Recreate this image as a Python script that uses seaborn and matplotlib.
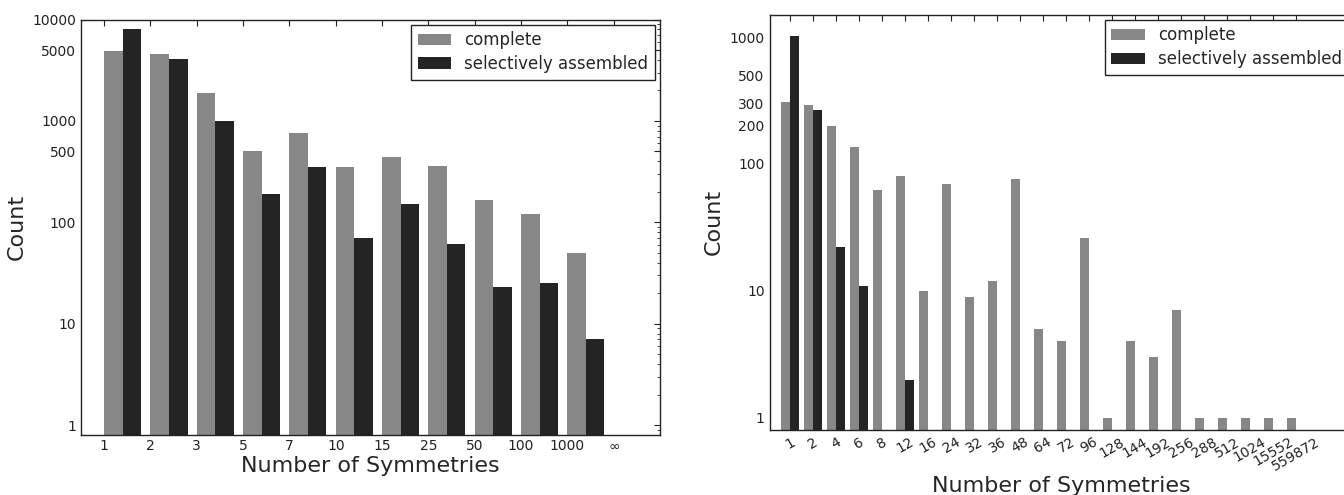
import numpy as np
import pandas as pd
import matplotlib
matplotlib.use("Agg")
import matplotlib.pyplot as plt
import seaborn as sns

# left panel: symmetry counts
left_labels = ['1', '2', '3', '5', '7', '10', '15', '25', '50', '100', '1000', r'$\infty$']
left_complete = [4900, 4550, 1870, 505, 760, 350, 445, 360, 167, 121, 50, None]
left_selective = [8100, 4050, 990, 191, 355, 70, 150, 61, 23, 25, 7, None]

# right panel
right_labels = ['1', '2', '4', '6', '8', '12', '16', '24', '32', '36', '48', '64', '72',
                '96', '128', '144', '192', '256', '288', '512', '1024', '15552', '559872']
right_complete = [310, 290, 200, 136, 62, 80, 10, 69, 9, 12, 76, 5, 4,
                  26, 1, 4, 3, 7, 1, 1, 1, 1, 1]
right_selective = [1010, 265, 22, 11, None, 2, None, None, None, None, None, None, None,
                   None, None, None, None, None, None, None, None, None, None]

kinds = ['complete', 'selectively assembled']
colors = ['#878787', '#242424']


def long_form(labels, comp, sel):
    rows = []
    for lab, c, s in zip(labels, comp, sel):
        if c is not None:
            rows.append((lab, kinds[0], c))
        if s is not None:
            rows.append((lab, kinds[1], s))
    return pd.DataFrame(rows, columns=['sym', 'kind', 'count'])


sns.set_style("white")
plt.rcParams.update({
    'font.family': ['DejaVu Sans'],
    'xtick.direction': 'in', 'ytick.direction': 'in',
    'xtick.top': True, 'ytick.right': True,
    'xtick.major.size': 4, 'ytick.major.size': 4,
    'xtick.minor.size': 2, 'ytick.minor.size': 2,
    'xtick.color': '#222222', 'ytick.color': '#222222',
    'axes.edgecolor': '#222222', 'axes.linewidth': 1.0,
    'xtick.labelsize': 10, 'ytick.labelsize': 10,
})

fig = plt.figure(figsize=(13.44, 4.95), dpi=100)
ax1 = fig.add_axes([81 / 1344, 1 - 434.5 / 495, 579 / 1344, 415 / 495])
ax2 = fig.add_axes([769.5 / 1344, 1 - 430 / 495, 584 / 1344, 415.3 / 495])

for ax, labels, comp, sel in [(ax1, left_labels, left_complete, left_selective),
                              (ax2, right_labels, right_complete, right_selective)]:
    df = long_form(labels, comp, sel)
    ax.set_yscale('log')
    sns.barplot(data=df, x='sym', y='count', hue='kind', order=labels, hue_order=kinds,
                palette=colors, saturation=1, width=0.8, errorbar=None,
                linewidth=0, ax=ax)
    ax.legend(loc='upper right', fontsize=12, frameon=True, fancybox=False,
              edgecolor='#222222', framealpha=1, borderaxespad=0.3,
              handlelength=2, labelspacing=0.35)
    ax.set_ylabel('Count', fontsize=16)
    ax.set_xlabel('Number of Symmetries', fontsize=16)
    for s in ax.spines.values():
        s.set_visible(True)

# left: ticks at the left edge of each bar pair
n1 = len(left_labels)
ax1.set_xticks(np.arange(n1) - 0.4, left_labels)
ax1.set_xlim(-0.9, 11.6)
ax1.set_ylim(0.81, 10000)
yt1 = [1, 10, 100, 500, 1000, 5000, 10000]
ax1.set_yticks(yt1, [str(v) for v in yt1])
ax1.xaxis.labelpad = 2

# right: rotated labels at group centres
n2 = len(right_labels)
ax2.set_xticks(np.arange(n2), right_labels, rotation=30, ha='center')
ax2.set_xlim(-0.9, 24.5)
ax2.set_ylim(0.8, 1500)
yt2 = [1, 10, 100, 200, 300, 500, 1000]
ax2.set_yticks(yt2, [str(v) for v in yt2])
ax2.xaxis.labelpad = 2

fig.savefig('out.png', dpi=100)
